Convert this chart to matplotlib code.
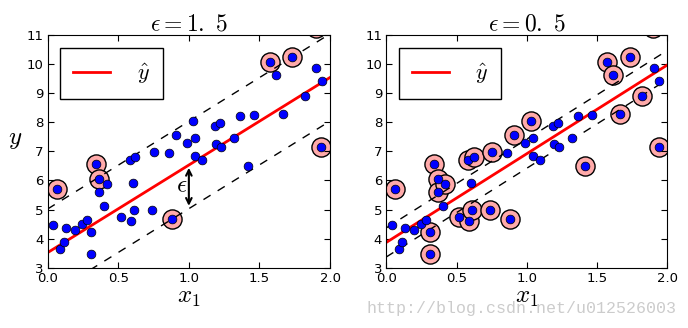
import numpy as np
import matplotlib
matplotlib.use("Agg")
import matplotlib.pyplot as plt

plt.rcParams['mathtext.fontset'] = 'cm'

# points
x1 = [0.04, 0.065, 0.09, 0.115, 0.13, 0.195, 0.245, 0.28, 0.31, 0.31,
      0.34, 0.365, 0.367, 0.40, 0.42, 0.517, 0.58, 0.587, 0.605, 0.608,
      0.622, 0.736, 0.75, 0.86, 0.88, 0.912, 0.99, 1.03, 1.042, 1.046,
      1.094, 1.183, 1.194, 1.22, 1.226, 1.323, 1.363, 1.417, 1.464, 1.573,
      1.615, 1.664, 1.732, 1.821, 1.904, 1.942, 1.937, 1.90]
y = [4.46, 5.69, 3.63, 3.87, 4.35, 4.28, 4.49, 4.63, 4.22, 3.46,
     6.55, 6.04, 5.60, 5.11, 5.87, 4.73, 6.72, 4.62, 5.90, 4.97,
     6.80, 5.00, 6.97, 6.93, 4.66, 7.55, 7.30, 8.06, 7.45, 6.83,
     6.71, 7.88, 7.27, 7.99, 7.16, 7.47, 8.20, 6.48, 8.26, 10.06,
     9.64, 8.30, 10.23, 8.91, 9.85, 9.41, 7.16, 11.25]

epsilons = [1.5, 0.5]
titles = [r"$\epsilon = 1.\ 5$", r"$\epsilon = 0.\ 5$"]
intercepts = [3.52, 3.87]
slopes = [3.01, 3.05]
support = [
    [1, 10, 11, 24, 39, 42, 46, 47],
    [1, 8, 9, 10, 11, 12, 14, 15, 16, 17, 19, 20, 21, 22, 24, 25, 27, 37,
     39, 40, 41, 42, 43, 46, 47],
]

x1 = np.array(x1)
y = np.array(y)

fig = plt.figure(figsize=(6.88, 3.28), dpi=100)
ax1 = fig.add_axes([0.0693, 0.1838, 0.4104, 0.7095])
ax2 = fig.add_axes([0.5615, 0.1838, 0.4085, 0.7095])

for i, ax in enumerate([ax1, ax2]):
    eps = epsilons[i]
    xs = np.linspace(0, 2, 100)
    pred = intercepts[i] + slopes[i] * xs
    sv = support[i]
    ax.scatter(x1[sv], y[sv], s=190, facecolors='#FFAAAA', edgecolors='k',
               linewidths=1, zorder=1)
    ax.plot(xs, pred, 'r-', linewidth=2, label=r"$\hat{y}$", zorder=2)
    ax.plot(xs, pred + eps, 'k--', linewidth=1, dashes=(6, 6), zorder=2)
    ax.plot(xs, pred - eps, 'k--', linewidth=1, dashes=(6, 6), zorder=2)
    ax.plot(x1, y, 'bo', markersize=6.3, markeredgecolor='k',
            markeredgewidth=0.5, zorder=3)
    ax.set_xlim(0, 2)
    ax.set_ylim(3, 11)
    ax.set_xticks([0, 0.5, 1.0, 1.5, 2.0])
    ax.set_xticklabels(['0.0', '0.5', '1.0', '1.5', '2.0'])
    ax.tick_params(direction='in', top=True, right=True, length=4,
                   labelsize=9.5, pad=3)
    ax.set_title(titles[i], fontsize=17, pad=3)
    ax.set_xlabel(r"$x_1$", fontsize=18, labelpad=0)
    ax.legend(loc='upper left', bbox_to_anchor=(0.0436, 0.944),
              borderaxespad=0, fontsize=16, fancybox=False,
              edgecolor='k', framealpha=1, handlelength=1.65,
              handletextpad=1.2, borderpad=0.6)

ax1.set_ylabel(r"$y$", fontsize=18, rotation=0, labelpad=8)
eps_x = 1.0
eps_pred = intercepts[0] + slopes[0] * eps_x
ax1.annotate('', xy=(eps_x, eps_pred), xycoords='data',
             xytext=(eps_x, eps_pred - epsilons[0]), textcoords='data',
             arrowprops={'arrowstyle': '<->', 'linewidth': 1.5})
ax1.text(0.91, 5.6, r"$\epsilon$", fontsize=18)

fig.text(0.984, 0.06, "http://blog.csdn.net/u012526003", ha='right',
         va='center', fontsize=12, family='Liberation Mono', color='#cccccc')

fig.savefig('out.png', dpi=100)
